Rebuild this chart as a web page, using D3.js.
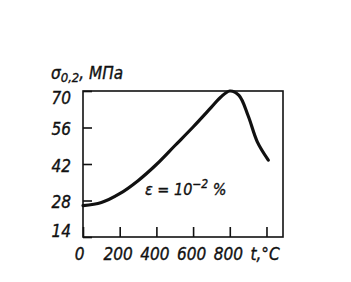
<!DOCTYPE html>
<html>
<head>
<meta charset="utf-8">
<title>sigma 0.2 vs t</title>
<script src="https://cdnjs.cloudflare.com/ajax/libs/d3/7.8.5/d3.min.js"></script>
<style>
	body{margin:0;background:#fff;}
	svg{display:block;}
	text{font-family:"DejaVu Sans Condensed","DejaVu Sans",sans-serif;font-style:italic;fill:#111;stroke:#111;stroke-width:0.35px;}
	.curve{fill:none;stroke:#111;stroke-width:3.2px;stroke-linecap:round;}
</style>
</head>
<body>
<div id="diagram"></div>
<script>
// data
var temps = [0, 100, 200, 300, 400, 500, 600, 700, 750, 800, 850, 900, 950, 1010];
var sigma = [26, 27.2, 30.6, 35.6, 41.8, 49, 56.2, 63.8, 67.6, 70, 68.3, 60.5, 50.5, 43.5];
var xTicks = [0, 200, 400, 600, 800, 1000];
var yTicks = [14, 28, 42, 56, 70];
var xTickLabels = ["0", "200", "400", "600", "800", "t,°C"];

var width = 351, height = 282;
var margin = {top: 91, right: 68, bottom: 45, left: 83};

var svg = d3.select("#diagram").append("svg")
	.attr("width", width)
	.attr("height", height);

var x = d3.scaleLinear().domain([0, 1090]).range([margin.left, width - margin.right]);
var y = d3.scaleLinear().domain([14, 70]).range([height - margin.bottom, margin.top]);

// frame
svg.append("rect")
	.attr("x", x(0)).attr("y", y(70))
	.attr("width", x(1090) - x(0)).attr("height", y(14) - y(70))
	.attr("fill", "none").attr("stroke", "#111").attr("stroke-width", 1.6);

// y axis, ticks pointing inside
var yAxis = svg.append("g")
	.attr("transform", "translate(" + x(0) + ",0)")
	.call(d3.axisLeft(y).tickValues(yTicks).tickSize(-9).tickPadding(12));
yAxis.select(".domain").remove();
yAxis.selectAll("line").attr("stroke", "#111").attr("stroke-width", 1.6);
yAxis.selectAll("text")
	.style("font-size", "17px")
	.attr("fill", "#111")
	.attr("dy", function(d){ return d == 70 ? "0.72em" : d == 14 ? "-0.02em" : "0.42em"; });

// x axis
var xAxis = svg.append("g")
	.attr("transform", "translate(0," + y(14) + ")")
	.call(d3.axisBottom(x).tickValues(xTicks).tickSize(-10).tickPadding(11)
		.tickFormat(function(d, i){ return xTickLabels[i]; }));
xAxis.select(".domain").remove();
xAxis.selectAll("line").attr("stroke", "#111").attr("stroke-width", 1.6);
xAxis.selectAll("text")
	.style("font-size", "17px")
	.attr("fill", "#111")
	.attr("dx", function(d){ return d == 0 ? "-4" : "-2"; });

// the curve
var points = temps.map(function(t, i){ return [t, sigma[i]]; });
var line = d3.line()
	.x(function(d){ return x(d[0]); })
	.y(function(d){ return y(d[1]); })
	.curve(d3.curveCatmullRom.alpha(0.5));
svg.append("path").datum(points).attr("class", "curve").attr("d", line);

// y title
var title = svg.append("text").attr("x", 51).attr("y", 79).style("font-size", "17px");
title.append("tspan").text("σ");
title.append("tspan").attr("dy", 3).style("font-size", "13px").text("0,2");
title.append("tspan").attr("dy", -3).text(", МПа");

// strain note
var note = svg.append("text").attr("x", 145).attr("y", 195).style("font-size", "16px");
note.append("tspan").text("ε = 10");
note.append("tspan").attr("dy", -7).style("font-size", "12px").text("−2");
note.append("tspan").attr("dy", 7).text(" %");
</script>
</body>
</html>
